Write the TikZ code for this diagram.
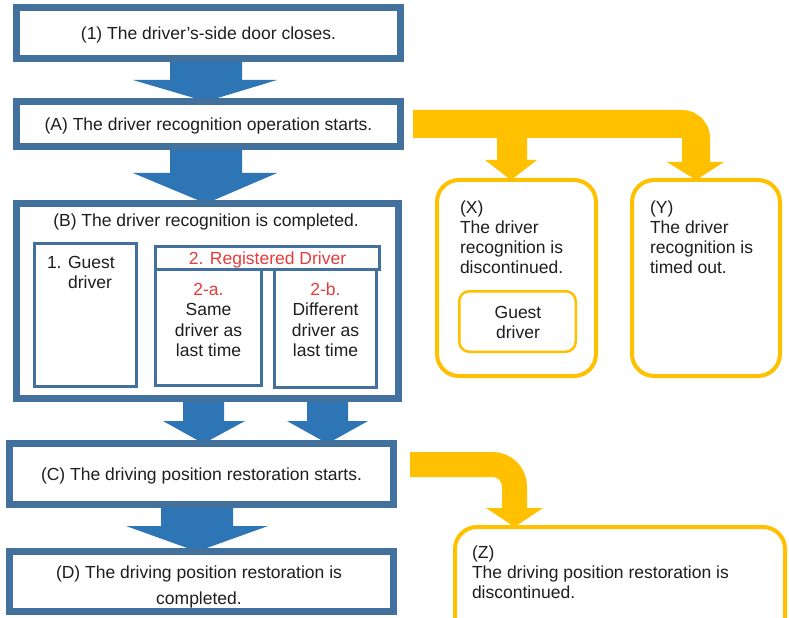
\documentclass[tikz,border=0pt]{standalone}
\usepackage{fontspec}
\setmainfont{Liberation Sans}
\usetikzlibrary{calc,backgrounds}
\definecolor{bborder}{HTML}{41719C}
\definecolor{barrow}{HTML}{2E75B6}
\definecolor{ygold}{HTML}{FFC000}
\definecolor{txtc}{HTML}{1E1E1E}
\definecolor{redt}{HTML}{E63B3B}
\newcommand\st{\rule{0pt}{13bp}}
% block arrow: color, from node, to node, tip x, shaft left, shaft right, head left, head right, head length
\newcommand\blockdown[9]{%
  \fill[#1] (#5,0 |- #2.south) -- ($(#5,0 |- #3.north)+(0,-#9)$) -- ($(#7,0 |- #3.north)+(0,-#9)$)
    -- (#4,0 |- #3.north) -- ($(#8,0 |- #3.north)+(0,-#9)$) -- ($(#6,0 |- #3.north)+(0,-#9)$)
    -- (#6,0 |- #2.south) -- cycle;}
\begin{document}
\begin{tikzpicture}[x=1bp,y=-1bp,
  every node/.style={font=\fontsize{17.5bp}{20bp}\selectfont, text=txtc, inner sep=0pt, outer sep=0pt},
  bigbox/.style={draw=bborder, line width=7bp, fill=white, rectangle},
  smallbox/.style={draw=bborder, line width=3bp, fill=white, rectangle},
  ybox/.style={draw=ygold, line width=4bp, fill=white, rounded corners=22bp},
  oneline/.style={text height=12.5bp, text depth=0pt}]
\useasboundingbox (0,0) rectangle (789,618);

% main flow boxes
\node[bigbox, oneline, minimum width=384bp, minimum height=51bp] (n1) at (208.5,33) {(1) The driver's-side door closes.};
\node[bigbox, oneline, minimum width=384bp, minimum height=45bp] (nA) at (208.5,124) {(A) The driver recognition operation starts.};
\node[bigbox, minimum width=382bp, minimum height=195bp] (nB) at (207.5,301) {};
\node[anchor=base] (tB) at (206,227) {(B) The driver recognition is completed.};
\node[bigbox, oneline, minimum width=384bp, minimum height=61bp] (nC) at (201.5,474) {(C) The driving position restoration starts.};
\node[bigbox, minimum width=384bp, minimum height=60bp] (nD) at (201.5,581.5) {};
\node[anchor=north, align=center, font=\fontsize{17.5bp}{26bp}\selectfont] (tD) at (199,565) {\st(D) The driving position restoration is\\completed.};

% inner boxes of B
\node[smallbox, minimum width=102bp, minimum height=143bp] (gB) at (85.5,315) {};
\node[anchor=north west, align=left] (gT) at (47,255) {\st 1. Guest\\\phantom{1. }driver};
\node[smallbox, minimum width=106bp, minimum height=116bp] (rA) at (208.5,327.5) {};
\node[smallbox, minimum width=102bp, minimum height=118bp] (rB) at (325.5,328.5) {};
\node[smallbox, oneline, text=redt, minimum width=224bp, minimum height=23bp] (rH) at (267.5,258) {2. Registered Driver};
\node[anchor=north, align=center, font=\fontsize{17.5bp}{20.5bp}\selectfont] (aT) at (208.5,282) {\st\textcolor{redt}{2-a.}\\Same\\driver as\\last time};
\node[anchor=north, align=center, font=\fontsize{17.5bp}{20.5bp}\selectfont] (bT) at (325.5,282) {\st\textcolor{redt}{2-b.}\\Different\\driver as\\last time};

% yellow outcome boxes
\node[ybox, minimum width=159bp, minimum height=196bp] (nX) at (516.5,278) {};
\node[ybox, minimum width=148bp, minimum height=196bp] (nY) at (706,278) {};
\node[anchor=north west, align=left] (xT) at (460,200) {\st(X)\\The driver\\recognition is\\discontinued.};
\node[anchor=north west, align=left] (yT) at (650,200) {\st(Y)\\The driver\\recognition is\\timed out.};
\node[draw=ygold, line width=2.5bp, fill=white, rounded corners=10bp, minimum width=116.5bp, minimum height=60.5bp] (xG) at (517.5,321.5) {};
\node[anchor=north, align=center] (xGT) at (518,305) {\st Guest\\driver};
\begin{scope}
  \clip (0,0) rectangle (789,618);
  \node[ybox, minimum width=330bp, minimum height=133bp] (nZ) at (620,593.5) {};
\end{scope}
\node[anchor=north west, align=left] (zT) at (472,545) {\st(Z)\\The driving position restoration is\\discontinued.};

\coordinate (yb) at ($(nA.east)+(12.5,0)$);
\coordinate (zb) at ($(nC.east)+(16.5,-9.5)$);

\begin{pgfonlayer}{background}
  \fill[white] (0,0) rectangle (789,618);
  % blue block arrows
  \blockdown{barrow}{n1}{nA}{206}{170}{242}{133}{277}{21.5}
  \blockdown{barrow}{nA}{nB}{206}{170}{242}{133}{277}{30.5}
  \blockdown{barrow}{nB}{nC}{203.5}{183}{224}{163}{245}{22.5}
  \blockdown{barrow}{nB}{nC}{327.5}{307}{348}{287}{368}{22.5}
  \blockdown{barrow}{nC}{nD}{197}{161}{233}{126}{268}{25.5}
  % yellow arrows from A
  \draw[ygold, line width=28bp, rounded corners=14bp] (yb) -- (696,0 |- yb) -- ($(696,0 |- nY.north)+(0,-18)$);
  \fill[ygold] ($(667,0 |- nY.north)+(0,-18)$) -- (696,0 |- nY.north) -- ($(724,0 |- nY.north)+(0,-18)$) -- cycle;
  \fill[ygold] (497,0 |- yb) -- ($(497,0 |- nX.north)+(0,-20)$) -- ($(485,0 |- nX.north)+(0,-20)$)
    -- (511,0 |- nX.north) -- ($(537,0 |- nX.north)+(0,-20)$) -- ($(527,0 |- nX.north)+(0,-20)$)
    -- (527,0 |- yb) -- cycle;
  % yellow arrow from C
  \draw[ygold, line width=25bp, rounded corners=22bp] (zb) -- (514.5,0 |- zb) -- ($(514.5,0 |- nZ.north)+(0,-19)$);
  \fill[ygold] ($(486,0 |- nZ.north)+(0,-19)$) -- (514.5,0 |- nZ.north) -- ($(543,0 |- nZ.north)+(0,-19)$) -- cycle;
\end{pgfonlayer}
\end{tikzpicture}
\end{document}
